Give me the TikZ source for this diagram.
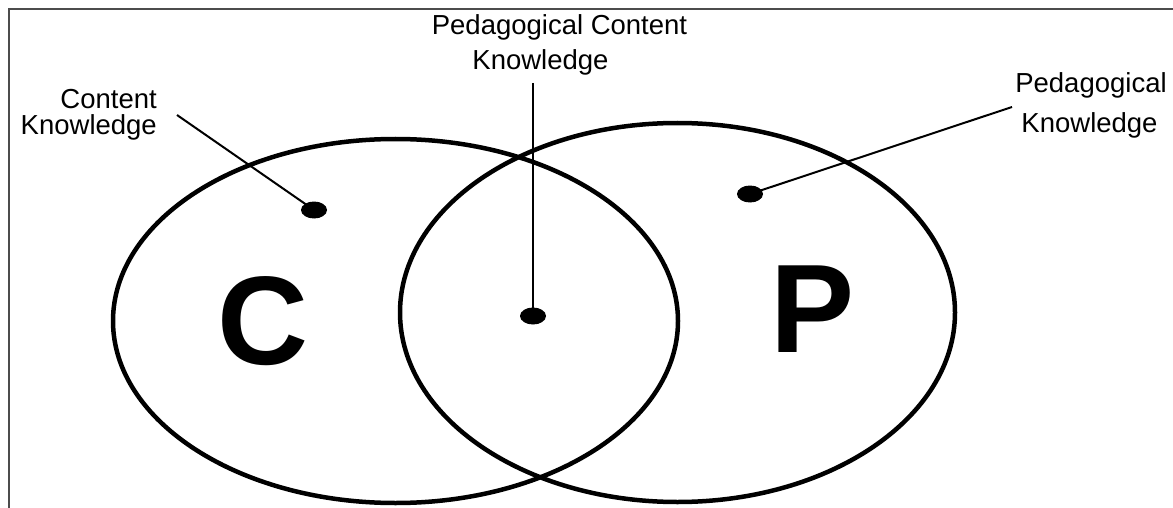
\documentclass[tikz,border=0pt]{standalone}
\usepackage{fontspec}
\setmainfont{Liberation Sans}
\usetikzlibrary{shapes.geometric}
\begin{document}
\begin{tikzpicture}[x=1pt,y=-1pt,
  lbl/.style={inner sep=0pt,font=\fontsize{27.5}{30}\selectfont},
  big/.style={inner sep=0pt,font=\fontsize{126}{130}\selectfont\bfseries},
  dot/.style={ellipse,fill=black,minimum width=26pt,minimum height=17pt,inner sep=0pt},
  ring/.style={line width=4.5pt},
  lead/.style={line width=2pt},
  frame/.style={draw=black!70,line width=2pt}]
\useasboundingbox (0,0) rectangle (1173,508);
% frame
\draw[frame] (1173,9.5) -- (8.5,9.5) -- (8.5,508);
% circles
\draw[ring] (395.5,321) ellipse [x radius=282.5pt, y radius=182pt];
\draw[ring] (677.5,312.5) ellipse [x radius=277.5pt, y radius=189.5pt];
% big letters
\node[big,anchor=base] (C) at (263,364) {C};
\node[big,anchor=base] (P) at (813,352) {P};
% dots
\node[dot] (dc) at (314,210) {};
\node[dot] (dpck) at (533,316) {};
\node[dot] (dp) at (750,194) {};
% labels
\node[lbl,anchor=base east] (ck1) at (157,109) {Content};
\node[lbl,anchor=base east] (ck2) at (157,135) {Knowledge};
\node[lbl,anchor=base] (pck1) at (559.5,35) {Pedagogical Content};
\node[lbl,anchor=base] (pck2) at (540.5,70) {Knowledge};
\node[lbl,anchor=base] (pk1) at (1091,93) {Pedagogical};
\node[lbl,anchor=base] (pk2) at (1089.5,133) {Knowledge};
% leader ends
\coordinate (lc) at (177,115);
\coordinate (lpck) at (533,83);
\coordinate (lp) at (1012,107);
\draw[lead] (lc) -- (dc.center);
\draw[lead] (lpck) -- (dpck.center);
\draw[lead] (lp) -- (dp.center);
\end{tikzpicture}
\end{document}
